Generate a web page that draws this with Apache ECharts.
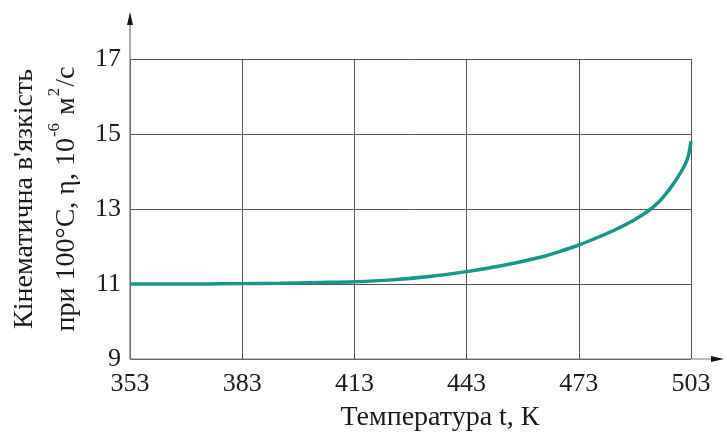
<!DOCTYPE html>
<html>
<head>
<meta charset="utf-8">
<script src="https://cdn.jsdelivr.net/npm/echarts@6/dist/echarts.min.js"></script>
<style>
  html, body { margin: 0; padding: 0; background: #fff; }
  #chart { width: 727px; height: 442px; }
</style>
</head>
<body>
<div id="chart"></div>
<script>
// Temperature, K
const temperature = [353, 363, 373, 383, 393, 403, 413, 423, 433, 443, 453, 463, 468, 473, 478, 483, 488, 492, 494.5, 496.5, 498, 499.6, 500.8, 501.7, 502.3, 502.6, 503];
// Kinematic viscosity at 100 °C, 10^-6 m2/s
const viscosity = [11.0, 11.0, 11.0, 11.01, 11.02, 11.04, 11.06, 11.11, 11.2, 11.33, 11.5, 11.72, 11.87, 12.04, 12.24, 12.46, 12.72, 12.98, 13.2, 13.43, 13.63, 13.87, 14.07, 14.25, 14.42, 14.56, 14.81];

const xTicks = [353, 383, 413, 443, 473, 503];
const yTicks = [9, 11, 13, 15, 17];

const GRID = { left: 130, right: 36, top: 59, bottom: 83 };
const W = 727, H = 442;
const plotL = GRID.left, plotR = W - GRID.right, plotT = GRID.top, plotB = H - GRID.bottom;

const FONT = 'Liberation Serif';
const TEXT = '#1a1a1a';
const AXIS = '#7a7a7a';

const chart = echarts.init(document.getElementById('chart'), null, { renderer: 'canvas' });

chart.setOption({
  animation: false,
  backgroundColor: '#ffffff',
  grid: GRID,
  xAxis: {
    type: 'value',
    min: xTicks[0],
    max: xTicks[xTicks.length - 1],
    interval: xTicks[1] - xTicks[0],
    axisLine: { show: false },
    axisTick: { show: false },
    axisLabel: { fontFamily: FONT, fontSize: 26, color: TEXT, margin: 12 },
    splitLine: { show: true, lineStyle: { color: '#555', width: 1 } }
  },
  yAxis: {
    type: 'value',
    min: yTicks[0],
    max: yTicks[yTicks.length - 1],
    interval: yTicks[1] - yTicks[0],
    axisLine: { show: false },
    axisTick: { show: false },
    axisLabel: { fontFamily: FONT, fontSize: 26, color: TEXT, margin: 9 },
    splitLine: { show: true, lineStyle: { color: '#555', width: 1 } }
  },
  series: [{
    type: 'line',
    data: temperature.map((t, i) => [t, viscosity[i]]),
    smooth: 0.3,
    showSymbol: false,
    lineStyle: { color: '#16978a', width: 3.5 },
    z: 5
  }],
  graphic: [
    // axes with arrowheads
    { type: 'line', shape: { x1: plotL, y1: plotB, x2: 716, y2: plotB }, style: { stroke: AXIS, lineWidth: 1.2 }, z: 10 },
    { type: 'polygon', shape: { points: [[724, plotB], [711, plotB - 3], [711, plotB + 3]] }, style: { fill: '#111' }, z: 10 },
    { type: 'line', shape: { x1: plotL, y1: plotB, x2: plotL, y2: 20 }, style: { stroke: AXIS, lineWidth: 1.2 }, z: 10 },
    { type: 'polygon', shape: { points: [[plotL, 12], [plotL - 3, 25], [plotL + 3, 25]] }, style: { fill: '#111' }, z: 10 },
    // axis titles
    {
      type: 'text', x: 440, y: 418, z: 10,
      style: { text: 'Температура t, К', font: '28px "Liberation Serif"', fill: TEXT, align: 'center', verticalAlign: 'middle' }
    },
    {
      type: 'text', x: 46, y: 199, rotation: Math.PI / 2, z: 10,
      style: {
        text: 'Кінематична в\'язкість\nпри 100°С, η, 10{sup|-6} м{sup|2}/с',
        font: '28px "Liberation Serif"', fill: TEXT, align: 'center', verticalAlign: 'middle',
        lineHeight: 42,
        rich: {
          sup: { fontFamily: FONT, fontSize: 17, fill: TEXT, verticalAlign: 'top', lineHeight: 42, padding: [0, 1, 8, 1] }
        }
      }
    }
  ]
});
</script>
</body>
</html>
